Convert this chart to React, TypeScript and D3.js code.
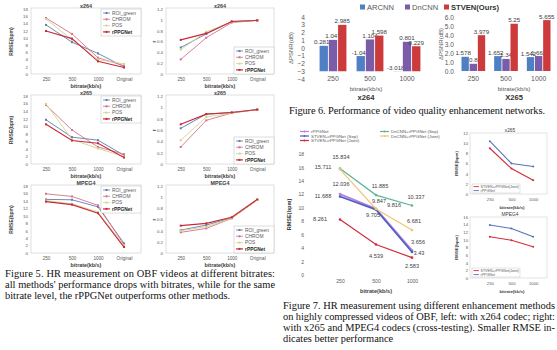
import React, { useRef, useEffect } from 'react'
import * as d3 from 'd3'

const W = 557
const H = 350
const SANS = 'Liberation Sans, Arial, sans-serif'
const SERIF = 'Liberation Serif, Times New Roman, serif'

// ---- Figure 5: RMSE and r per bitrate, one row per method
const bitrates5 = ['250', '500', '1000', 'Original']
const methods5 = ['ROI_green', 'CHROM', 'POS', 'rPPGNet']
const methodColors5 = ['#5f7db3', '#d8708f', '#cdd68a', '#cc2a36']
const rmseTicks5 = [0, 2, 4, 6, 8, 10, 12, 14, 16, 18]
const rTicks5 = [0, 0.2, 0.4, 0.6, 0.8, 1, 1.2]

const x264Rmse = [[13.6, 8.8, 5.7, 2.0], [15.5, 11.1, 4.5, 2.3], [15.2, 9.5, 4.0, 2.8], [11.9, 9.8, 3.5, 1.8]]
const x264R = [[0.49, 0.74, 0.97, 0.99], [0.27, 0.67, 0.95, 0.99], [0.45, 0.78, 0.96, 0.99], [0.63, 0.75, 0.97, 0.99]]
const x265Rmse = [[11.7, 7.1, 6.3, 2.3], [15.6, 9.0, 4.5, 2.6], [15.9, 6.5, 4.1, 2.0], [10.5, 6.2, 5.5, 1.7]]
const x265R = [[0.63, 0.88, 0.91, 0.96], [0.30, 0.77, 0.90, 0.96], [0.42, 0.83, 0.90, 0.96], [0.70, 0.88, 0.91, 0.96]]
const mpeg4Rmse = [[14.4, 14.3, 12.4, 2.6], [15.9, 15.2, 12.8, 2.2], [14.1, 13.2, 11.0, 2.0], [13.8, 13.0, 10.7, 1.6]]
const mpeg4R = [[0.41, 0.50, 0.63, 0.95], [0.37, 0.44, 0.62, 0.95], [0.40, 0.47, 0.62, 0.95], [0.49, 0.53, 0.64, 0.96]]

// ---- Figure 6: delta PSNR, one row per network
const bitrates6 = ['250', '500', '1000']
const nets6 = ['ARCNN', 'DnCNN', 'STVEN(Ours)']
const netColors6 = ['#4f7fc4', '#7a5ca8', '#cc3a3c']
const psnrX264 = [[0.281, -1.04, -3.018], [1.047, 1.104, 0.801], [2.985, 1.598, 0.229]]
const psnrX265 = [[1.578, 1.652, 1.542], [0.8, 1.34, 1.662], [3.979, 5.25, 5.655]]
const psnrTicksX264 = [-4, -3, -2, -1, 0, 1, 2, 3, 4]
const psnrTicksX265 = [0, 1, 2, 3, 4, 5, 6]

// ---- Figure 7: RMSE with enhancement
const bitrates7 = ['250', '500', '1000']
const rppgNet = [12.036, 9.847, 3.656]
const stvenSep = [11.688, 9.705, 3.43]
const stvenJoint = [8.261, 4.539, 2.583]
const dncnnSep = [15.834, 11.885, 10.337]
const dncnnJoint = [15.711, 9.816, 6.681]
const rmseTicks7 = [0, 2, 4, 6, 8, 10, 12, 14, 16, 18]
const x265Joint = [9.0, 5.0, 2.7]
const x265Rppg = [10.4, 6.0, 5.4]
const x265Ticks = [0, 2, 4, 6, 8, 10, 12]
const mpeg4Joint = [10.8, 9.9, 8.2]
const mpeg4Rppg = [13.9, 13.0, 10.8]
const mpeg4Ticks = [0, 2, 4, 6, 8, 10, 12, 14, 16]

const fig5Caption = [
  'Figure 5. HR measurement on OBF videos at different bitrates:',
  "all methods' performance drops with bitrates, while for the same",
  'bitrate level, the rPPGNet outperforms other methods.',
]
const fig6Caption = 'Figure 6. Performance of video quality enhancement networks.'
const fig7Caption = [
  'Figure 7. HR measurement using different enhancement methods',
  'on highly compressed videos of OBF, left: with x264 codec; right:',
  'with x265 and MPEG4 codecs (cross-testing). Smaller RMSE in-',
  'dicates better performance',
]

const GRAY = '#595959'

function styleAxis(a, size) {
  a.select('.domain').remove()
  a.selectAll('text').attr('fill', GRAY).attr('font-size', size).attr('font-family', SANS)
}

function fig5Panel(root, o) {
  const g = root.append('g')
  const x = d3.scalePoint().domain(bitrates5).range([o.left + 2, o.right - 4]).padding(0.5)
  const y = d3.scaleLinear().domain(o.domain).range([o.bottom, o.top])

  g.append('rect')
    .attr('x', o.left).attr('y', o.top - 1)
    .attr('width', o.right - o.left).attr('height', o.bottom - o.top + 1)
    .attr('fill', 'none').attr('stroke', '#c9c9c9').attr('stroke-width', 0.6)

  g.append('g').attr('transform', `translate(${o.left},0)`)
    .call(d3.axisLeft(y).tickValues(o.ticks).tickSize(0).tickPadding(3).tickFormat(o.fmt))
    .call(a => styleAxis(a, 4.4))
  g.append('g').attr('transform', `translate(0,${o.bottom})`)
    .call(d3.axisBottom(x).tickSize(0).tickPadding(4))
    .call(a => styleAxis(a, 4.6))

  g.append('text').attr('x', (o.left + o.right) / 2).attr('y', o.top - 1.5)
    .attr('text-anchor', 'middle').attr('font-size', 5.4).attr('font-weight', 'bold')
    .attr('font-family', SANS).attr('fill', '#404040').text(o.title)
  g.append('text').attr('x', (o.left + o.right) / 2).attr('y', o.bottom + 14)
    .attr('text-anchor', 'middle').attr('font-size', 5.4).attr('font-weight', 'bold')
    .attr('font-family', SANS).attr('fill', '#404040').text('bitrate(kb/s)')
  g.append('text')
    .attr('transform', `translate(${o.ylabX},${(o.top + o.bottom) / 2}) rotate(-90)`)
    .attr('text-anchor', 'middle').attr('font-size', 5).attr('font-weight', 'bold')
    .attr('font-family', SANS).attr('fill', '#404040').text(o.ylab)

  const line = d3.line().x((d, i) => x(bitrates5[i])).y(d => y(d))
  o.data.forEach((s, k) => {
    g.append('path').attr('d', line(s)).attr('fill', 'none')
      .attr('stroke', methodColors5[k]).attr('stroke-width', k === 3 ? 1.1 : 0.9)
    g.selectAll(null).data(s).join('rect')
      .attr('x', (d, i) => x(bitrates5[i]) - 1).attr('y', d => y(d) - 1)
      .attr('width', 2).attr('height', 2).attr('fill', methodColors5[k])
  })

  // legend
  const lw = 40
  const lh = 27
  const lx = o.right - lw
  const ly = o.legendTop ? o.top : o.bottom - lh
  const lg = g.append('g').attr('transform', `translate(${lx},${ly})`)
  lg.append('rect').attr('width', lw).attr('height', lh).attr('fill', '#fff')
    .attr('stroke', '#bdbdbd').attr('stroke-width', 0.5)
  methods5.forEach((m, k) => {
    const yy = 4 + k * 6.3
    lg.append('line').attr('x1', 2).attr('x2', 9).attr('y1', yy).attr('y2', yy)
      .attr('stroke', methodColors5[k]).attr('stroke-width', k === 3 ? 1.2 : 0.8)
    lg.append('rect').attr('x', 4.5).attr('y', yy - 1).attr('width', 2).attr('height', 2)
      .attr('fill', methodColors5[k])
    lg.append('text').attr('x', 11).attr('y', yy + 1.7).attr('font-size', 4.9)
      .attr('font-family', SANS).attr('fill', k === 3 ? '#222' : GRAY)
      .attr('font-weight', k === 3 ? 'bold' : 'normal').text(m)
  })
}

function fig6Panel(root, o) {
  const g = root.append('g')
  const x0 = d3.scaleBand().domain(bitrates6).range([o.left, o.right])
  const x1 = d3.scaleBand().domain(nets6).range([0, x0.bandwidth()]).paddingInner(0.1).paddingOuter(0.55)
  const y = d3.scaleLinear().domain(o.domain).range([o.bottom, o.top])

  g.append('g').attr('transform', `translate(${o.axisX},0)`)
    .call(d3.axisLeft(y).tickValues(o.ticks).tickSize(0).tickPadding(0))
    .call(a => styleAxis(a, 6.6))
  g.append('g').attr('transform', `translate(0,76.5)`)
    .call(d3.axisBottom(x0).tickSize(0).tickPadding(0))
    .call(a => styleAxis(a, 6.8))

  nets6.forEach((n, k) => {
    o.data[k].forEach((v, i) => {
      const bx = x0(bitrates6[i]) + x1(n)
      const y0 = y(o.base)
      const yv = y(v)
      g.append('rect').attr('x', bx).attr('width', x1.bandwidth())
        .attr('y', Math.min(y0, yv)).attr('height', Math.abs(y0 - yv))
        .attr('fill', netColors6[k])
      g.append('text').attr('x', bx + x1.bandwidth() / 2 + (k === 0 ? -2 : 0))
        .attr('y', Math.min(yv, y0) - 1.5).attr('text-anchor', 'middle')
        .attr('font-size', 6.2).attr('font-family', SANS).attr('fill', '#404040').text(String(v))
    })
  })

  g.append('text').attr('x', o.labelX).attr('y', 91).attr('text-anchor', 'middle')
    .attr('font-size', 6.2).attr('font-family', SANS).attr('fill', GRAY).text('bitrate(kb/s)')
  g.append('text').attr('x', o.labelX).attr('y', 99.5).attr('text-anchor', 'middle')
    .attr('font-size', 7.6).attr('font-weight', 'bold').attr('font-family', SANS)
    .attr('fill', '#333').text(o.name)
  g.append('text')
    .attr('transform', `translate(${o.ylabX},${(o.top + o.bottom) / 2}) rotate(-90)`)
    .attr('text-anchor', 'middle').attr('font-size', 6).attr('font-family', SANS)
    .attr('fill', GRAY).text('ΔPSNR(dB)')
}

function fig6Legend(root) {
  const xs = [360, 405, 444]
  nets6.forEach((n, k) => {
    root.append('rect').attr('x', xs[k]).attr('y', 4.5).attr('width', 5).attr('height', 5)
      .attr('fill', netColors6[k])
    root.append('text').attr('x', xs[k] + 7).attr('y', 9.6).attr('font-size', 7.6)
      .attr('font-family', SANS).attr('fill', k === 2 ? '#333' : GRAY)
      .attr('font-weight', k === 2 ? 'bold' : 'normal').text(n)
  })
}

const series7 = [
  { name: 'rPPGNet', values: rppgNet, color: '#b77fe0', width: 1.8 },
  { name: 'DnCNN+rPPGNet (Sep)', values: dncnnSep, color: '#5db596', width: 1.2 },
  { name: 'STVEN+rPPGNet (Sep)', values: stvenSep, color: '#4a5fc1', width: 1.6 },
  { name: 'DnCNN+rPPGNet (Joint)', values: dncnnJoint, color: '#f2c572', width: 1.2 },
  { name: 'STVEN+rPPGNet (Joint)', values: stvenJoint, color: '#d42a3a', width: 1.2 },
]
// label offsets (dx, dy) for the data labels, per series
const labelOffsets7 = [
  [[1, -8], [3, -6], [6, -6]],
  [[1, -10], [4, -7], [4, -7]],
  [[-17, 2], [-3, 7], [7, 3]],
  [[-17, 0], [18, -2], [2, -7]],
  [[-20, 2], [0, 14], [0, 10]],
]

function fig7Main(root) {
  const g = root.append('g')
  const left = 322
  const right = 430
  const top = 154
  const bottom = 275
  const x = d3.scalePoint().domain(bitrates7).range([left, right]).padding(0.5)
  const y = d3.scaleLinear().domain([0, 18]).range([bottom, top])

  g.append('g').attr('transform', `translate(304,0)`)
    .call(d3.axisLeft(y).tickValues(rmseTicks7).tickSize(0).tickPadding(0))
    .call(a => styleAxis(a, 5))
  g.append('g').attr('transform', `translate(0,${bottom + 3})`)
    .call(d3.axisBottom(x).tickSize(0).tickPadding(1))
    .call(a => styleAxis(a, 5))
  g.append('text').attr('x', 376).attr('y', 293).attr('text-anchor', 'middle')
    .attr('font-size', 5.6).attr('font-weight', 'bold').attr('font-family', SANS)
    .attr('fill', '#404040').text('bitrate(kb/s)')
  g.append('text').attr('transform', `translate(291,${(top + bottom) / 2}) rotate(-90)`)
    .attr('text-anchor', 'middle').attr('font-size', 5.6).attr('font-weight', 'bold')
    .attr('font-family', SANS).attr('fill', '#404040').text('RMSE(bpm)')

  const line = d3.line().x((d, i) => x(bitrates7[i])).y(d => y(d))
  series7.forEach(s => {
    g.append('path').attr('d', line(s.values)).attr('fill', 'none')
      .attr('stroke', s.color).attr('stroke-width', s.width)
    g.selectAll(null).data(s.values).join('circle')
      .attr('cx', (d, i) => x(bitrates7[i])).attr('cy', d => y(d)).attr('r', 1.3)
      .attr('fill', s.color)
  })
  series7.forEach((s, k) => {
    g.selectAll(null).data(s.values).join('text')
      .attr('x', (d, i) => x(bitrates7[i]) + labelOffsets7[k][i][0])
      .attr('y', (d, i) => y(d) + labelOffsets7[k][i][1])
      .attr('text-anchor', 'middle').attr('font-size', 5.6).attr('font-family', SANS)
      .attr('fill', '#404040').text(d => String(d))
  })

  // legend in two columns
  const pos = [[300, 131.5], [380, 131.5], [300, 136], [380, 136], [300, 140.5]]
  series7.forEach((s, k) => {
    const [lx, ly] = pos[k]
    g.append('line').attr('x1', lx).attr('x2', lx + 9).attr('y1', ly).attr('y2', ly)
      .attr('stroke', s.color).attr('stroke-width', 1.2)
    g.append('circle').attr('cx', lx + 4.5).attr('cy', ly).attr('r', 1).attr('fill', s.color)
    g.append('text').attr('x', lx + 11).attr('y', ly + 1.5).attr('font-size', 4.4)
      .attr('font-family', SANS).attr('fill', GRAY).text(s.name)
  })
}

function fig7Small(root, o) {
  const g = root.append('g')
  const x = d3.scalePoint().domain(bitrates7).range([479, 544]).padding(0.5)
  const y = d3.scaleLinear().domain(o.domain).range([o.bottom, o.top])
  g.append('rect').attr('x', 470).attr('y', o.top).attr('width', 77).attr('height', o.bottom - o.top)
    .attr('fill', 'none').attr('stroke', '#cfcfcf').attr('stroke-width', 0.6)
  g.append('g').attr('transform', `translate(468,0)`)
    .call(d3.axisLeft(y).tickValues(o.ticks).tickSize(0).tickPadding(0))
    .call(a => styleAxis(a, 4.2))
  g.append('g').attr('transform', `translate(0,${o.bottom + 3})`)
    .call(d3.axisBottom(x).tickSize(0).tickPadding(1))
    .call(a => styleAxis(a, 4.2))
  g.append('text').attr('x', 510).attr('y', o.top - 1).attr('text-anchor', 'middle')
    .attr('font-size', 4.8).attr('font-family', SANS).attr('fill', '#404040').text(o.title)
  g.append('text').attr('x', 512).attr('y', o.bottom + 15).attr('text-anchor', 'middle')
    .attr('font-size', 4.4).attr('font-weight', 'bold').attr('font-family', SANS)
    .attr('fill', '#404040').text('bitrate(kb/s)')
  g.append('text').attr('transform', `translate(458,${(o.top + o.bottom) / 2}) rotate(-90)`)
    .attr('text-anchor', 'middle').attr('font-size', 4.4).attr('font-weight', 'bold')
    .attr('font-family', SANS).attr('fill', '#404040').text('RMSE(bpm)')

  const lines = [
    { name: 'STVEN+rPPGNet(Joint)', values: o.joint, color: '#d42a3a' },
    { name: 'rPPGNet', values: o.rppg, color: '#5673b8' },
  ]
  const line = d3.line().x((d, i) => x(bitrates7[i])).y(d => y(d))
  lines.forEach(s => {
    g.append('path').attr('d', line(s.values)).attr('fill', 'none')
      .attr('stroke', s.color).attr('stroke-width', 1.1)
    g.selectAll(null).data(s.values).join('circle')
      .attr('cx', (d, i) => x(bitrates7[i])).attr('cy', d => y(d)).attr('r', 1)
      .attr('fill', s.color)
  })
  const lg = g.append('g').attr('transform', `translate(472,${o.bottom - 10})`)
  lg.append('rect').attr('width', 48).attr('height', 9).attr('fill', '#fff')
    .attr('stroke', '#bdbdbd').attr('stroke-width', 0.4)
  lines.forEach((s, k) => {
    const yy = 2.6 + k * 4
    lg.append('line').attr('x1', 1.5).attr('x2', 7).attr('y1', yy).attr('y2', yy)
      .attr('stroke', s.color).attr('stroke-width', 0.9)
    lg.append('text').attr('x', 8.5).attr('y', yy + 1.3).attr('font-size', 3.6)
      .attr('font-family', SANS).attr('fill', GRAY).text(s.name)
  })
}

function captions(root) {
  const cap = (x, y, text, len) => {
    const t = root.append('text').attr('x', x).attr('y', y).attr('font-size', 10.4)
      .attr('font-family', SERIF).attr('fill', '#111').text(text)
    if (len) t.attr('textLength', len).attr('lengthAdjust', 'spacing')
  }
  fig5Caption.forEach((l, i) => cap(5, 276.5 + i * 11.3, l, i < 2 ? 270 : null))
  cap(289, 114, fig6Caption, 256)
  fig7Caption.forEach((l, i) => cap(283, 308.5 + i * 11, l, i < 3 ? 272 : null))
}

export default function App() {
  const svgRef = useRef(null)

  useEffect(() => {
    const svg = d3.select(svgRef.current)
    svg.selectAll('*').remove()
    svg.append('rect').attr('width', W).attr('height', H).attr('fill', '#fff')

    // Figure 5 grid of small charts
    const rows = [
      { top: 9, bottom: 74, title: 'x264', rmse: x264Rmse, r: x264R },
      { top: 96, bottom: 164, title: 'x265', rmse: x265Rmse, r: x265R },
      { top: 186, bottom: 253, title: 'MPEG4', rmse: mpeg4Rmse, r: mpeg4R },
    ]
    rows.forEach(row => {
      fig5Panel(svg, {
        left: 31, right: 141, top: row.top, bottom: row.bottom, domain: [0, 18],
        ticks: rmseTicks5, fmt: d3.format('d'), data: row.rmse, title: row.title,
        ylab: 'RMSE(bpm)', ylabX: 13, legendTop: true,
      })
      fig5Panel(svg, {
        left: 166, right: 274, top: row.top, bottom: row.bottom, domain: [0, 1.2],
        ticks: rTicks5, fmt: d => String(+d.toFixed(1)), data: row.r, title: row.title,
        ylab: 'r', ylabX: 156, legendTop: false,
      })
    })

    // Figure 6
    fig6Legend(svg)
    fig6Panel(svg, {
      left: 314.5, right: 425.5, top: 17, bottom: 79, domain: [-4, 4], base: -3,
      ticks: psnrTicksX264, data: psnrX264, axisX: 305, ylabX: 293, name: 'x264', labelX: 366,
    })
    fig6Panel(svg, {
      left: 457, right: 555, top: 17, bottom: 71, domain: [0, 6], base: 0,
      ticks: psnrTicksX265, data: psnrX265, axisX: 454, ylabX: 443, name: 'X265', labelX: 514,
    })

    // Figure 7
    fig7Main(svg)
    fig7Small(svg, { top: 133, bottom: 194, domain: [0, 12], ticks: x265Ticks, title: 'x265', joint: x265Joint, rppg: x265Rppg })
    fig7Small(svg, { top: 217, bottom: 278, domain: [0, 16], ticks: mpeg4Ticks, title: 'MPEG4', joint: mpeg4Joint, rppg: mpeg4Rppg })

    captions(svg)
  }, [])

  return (
    <svg
      ref={svgRef}
      width={W}
      height={H}
      style={{ position: 'absolute', left: 0, top: 0, display: 'block' }}
    />
  )
}
